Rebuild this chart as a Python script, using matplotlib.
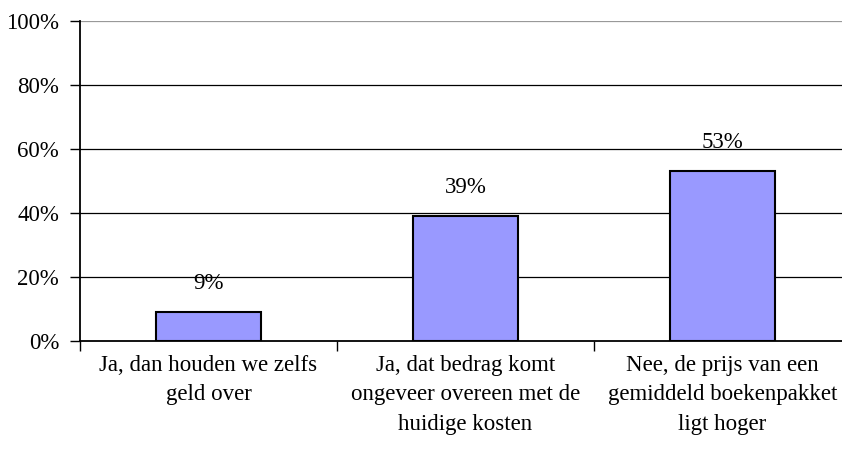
import matplotlib.pyplot as plt
from matplotlib.ticker import FixedLocator

plt.rcParams['font.family'] = ['Liberation Serif', 'DejaVu Serif']

categories = ['Ja, dan houden we zelfs\ngeld over',
              'Ja, dat bedrag komt\nongeveer overeen met de\nhuidige kosten',
              'Nee, de prijs van een\ngemiddeld boekenpakket\nligt hoger']
values = [9, 39, 53]
yticks = [0, 20, 40, 60, 80, 100]

W, H = 842, 451
fs = 16.5
fig = plt.figure(figsize=(W / 100, H / 100), dpi=100)
ax = fig.add_axes([80 / W, 1 - 341 / H, 771 / W, 320 / H])

x = list(range(len(categories)))
ax.bar(x, values, width=0.405, color='#9999FF', edgecolor='black', linewidth=1.5, zorder=3)

for xi, v in zip(x, values):
    ax.annotate(f'{v}%', (xi, v), xytext=(0, 29), textcoords='offset pixels',
                ha='center', va='center', fontsize=fs, zorder=4)

ax.set_xlim(-0.5, len(categories) - 0.5)
ax.set_ylim(0, 100)

ax.set_yticks(yticks)
ax.set_yticklabels([f'{t}%' for t in yticks], fontsize=fs)
for t in yticks[1:]:
    ax.axhline(t, color='black' if t < 100 else '#999999', linewidth=0.9, zorder=1)

ax.set_xticks(x)
ax.set_xticklabels(categories, fontsize=fs, linespacing=1.52)
ax.tick_params(axis='x', length=0, pad=10)
ax.xaxis.set_minor_locator(FixedLocator([i - 0.5 for i in range(len(categories) + 1)]))
ax.tick_params(axis='x', which='minor', length=7, width=1)
ax.tick_params(axis='y', length=7, width=1, pad=8)

for s in ['top', 'right']:
    ax.spines[s].set_visible(False)
ax.spines['left'].set_linewidth(1.3)
ax.spines['bottom'].set_linewidth(1.3)

fig.savefig('out.png', dpi=100)
